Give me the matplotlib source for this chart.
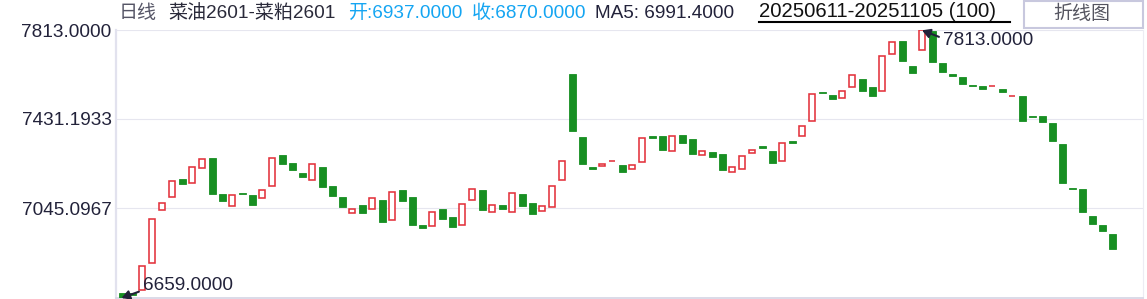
import matplotlib
matplotlib.use("Agg")
import matplotlib.pyplot as plt
from matplotlib.patches import Rectangle
from matplotlib.lines import Line2D

plt.rcParams['font.family'] = ['Liberation Sans', 'Noto Sans CJK SC', 'DejaVu Sans']

# ---- data ----
opens = [6680, 6682, 6693, 6808, 7037, 7093, 7172, 7153, 7218, 7262,
         7107, 7054, 7113, 7103, 7089, 7140, 7275, 7240, 7198, 7166,
         7224, 7142, 7094, 7024, 7060, 7041, 7081, 6994, 7124, 7094,
         6974, 6968, 7043, 7008, 6972, 7080, 7124, 7028, 7060, 7028,
         7107, 7068, 7033, 7050, 7166, 7625, 7353, 7224, 7229, 7249,
         7232, 7214, 7244, 7356, 7357, 7291, 7362, 7344, 7274, 7288,
         7280, 7201, 7216, 7285, 7314, 7293, 7248, 7336, 7356, 7421,
         7547, 7534, 7520, 7567, 7603, 7569, 7550, 7710, 7767, 7659,
         7727, 7812, 7672, 7625, 7612, 7577, 7573, 7571, 7560, 7528,
         7530, 7444, 7445, 7413, 7323, 7133, 7129, 7012, 6974, 6937]
closes = [6659, 6670, 6796, 6998, 7067, 7162, 7152, 7222, 7257, 7109,
          7078, 7102, 7108, 7061, 7123, 7261, 7235, 7212, 7182, 7235,
          7139, 7100, 7052, 7041, 7027, 7089, 6988, 7115, 7077, 6973,
          6961, 7028, 7000, 6966, 7063, 7127, 7038, 7059, 7043, 7110,
          7057, 7022, 7054, 7140, 7248, 7380, 7238, 7216, 7237, 7250,
          7202, 7231, 7347, 7350, 7298, 7356, 7328, 7281, 7291, 7268,
          7212, 7222, 7270, 7296, 7307, 7242, 7326, 7329, 7399, 7537,
          7543, 7518, 7550, 7619, 7553, 7531, 7701, 7761, 7682, 7630,
          7813, 7678, 7635, 7617, 7583, 7573, 7561, 7572, 7548, 7529,
          7423, 7440, 7419, 7337, 7156, 7130, 7030, 6978, 6949, 6870]
ytick_values = [7045.0967, 7431.1933, 7813.0]
y_min, y_max = 6659.0, 7813.0
header_name = "菜油2601-菜粕2601"
period_label = "日线"
open_label = "开:6937.0000"
close_label = "收:6870.0000"
ma_label = "MA5: 6991.4000"
date_range = "20250611-20251105 (100)"
button_label = "折线图"

W, H = 1147, 299
fig = plt.figure(figsize=(W / 100, H / 100), dpi=100)
fig.patch.set_facecolor('white')

def fx(px):
    return px / W

def fy(py):
    return 1 - py / H

ax_top, ax_bot, ax_left, ax_right = 30.3, 298.0, 116.0, 1143.0
ax = fig.add_axes([fx(ax_left), fy(ax_bot), (ax_right - ax_left) / W, (ax_bot - ax_top) / H])
ax.set_xlim((ax_left - 122) / 10, (ax_right - 122) / 10)
ax.set_ylim(y_min, y_max)

GREEN = '#178f22'
RED = '#e3323c'
n = len(opens)
for i in range(n):
    o, c = opens[i], closes[i]
    if c >= o:
        ax.bar(i, max(c - o, 0.5), bottom=o, width=0.52, facecolor='white',
               edgecolor=RED, linewidth=1.15, zorder=3)
    else:
        ax.bar(i, o - c, bottom=c, width=0.7, facecolor=GREEN,
               edgecolor=GREEN, linewidth=0.6, zorder=3)

ax.set_yticks(ytick_values)
ax.set_yticklabels([f"{v:.4f}" for v in ytick_values])
ax.set_xticks([])
ax.tick_params(axis='y', length=0, pad=3.2, labelsize=13.7, labelcolor='#22223a')
ax.grid(axis='y', color='#e6e6ef', linewidth=0.8, zorder=0)
ax.set_axisbelow(True)
for s in ['top']:
    ax.spines[s].set_visible(False)
ax.spines['left'].set_color('#e2e2ee')
ax.spines['left'].set_linewidth(1.6)
ax.spines['bottom'].set_color('#d4d4e4')
ax.spines['bottom'].set_linewidth(1.2)
ax.spines['right'].set_color('#ececf3')
ax.spines['right'].set_linewidth(0.8)

# min / max annotations
imin = closes.index(min(closes))
imax = closes.index(max(closes))
ann_col = '#22223a'
ax.annotate(f"{min(closes):.4f}", xy=(imin - 0.05, min(closes)),
            xytext=(2.1, 6711), ha='left', va='center', fontsize=13.7, color=ann_col,
            annotation_clip=False,
            arrowprops=dict(arrowstyle='-|>,head_length=0.35,head_width=0.2', color=ann_col,
                            lw=1.5, relpos=(0, 0.25), shrinkA=1, shrinkB=0))
ax.annotate(f"{max(closes):.4f}", xy=(imax, max(closes)),
            xytext=(82.1, 7767), ha='left', va='center', fontsize=13.7, color=ann_col,
            annotation_clip=False,
            arrowprops=dict(arrowstyle='-|>,head_length=0.35,head_width=0.2', color=ann_col,
                            lw=1.5, relpos=(0, 0.65), shrinkA=1, shrinkB=0))

# header
fs = 13.7
fig.text(fx(119), fy(13.5), period_label, fontsize=fs, color='#555566', ha='left', va='center')
fig.text(fx(168), fy(13.5), header_name, fontsize=fs, color='#2a2a3a', ha='left', va='center')
fig.text(fx(348), fy(13.5), open_label, fontsize=fs, color='#14a5f2', ha='left', va='center')
fig.text(fx(471.5), fy(13.5), close_label, fontsize=fs, color='#14a5f2', ha='left', va='center')
fig.text(fx(595), fy(13.5), ma_label, fontsize=fs, color='#22223a', ha='left', va='center')
fig.text(fx(759), fy(11.5), date_range, fontsize=14.6, color='#111111', ha='left', va='center')
fig.add_artist(Line2D([fx(759), fx(1010)], [fy(21.7), fy(21.7)], color='black', linewidth=1.5))

fig.add_artist(Rectangle((fx(1024), fy(27.5)), (1143 - 1024) / W, 26.5 / H,
                         facecolor='white', edgecolor='#c8c8de', linewidth=1.5))
fig.text(fx(1082), fy(14), button_label, fontsize=fs, color='#555560', ha='center', va='center')

fig.savefig('out.png', dpi=100)
